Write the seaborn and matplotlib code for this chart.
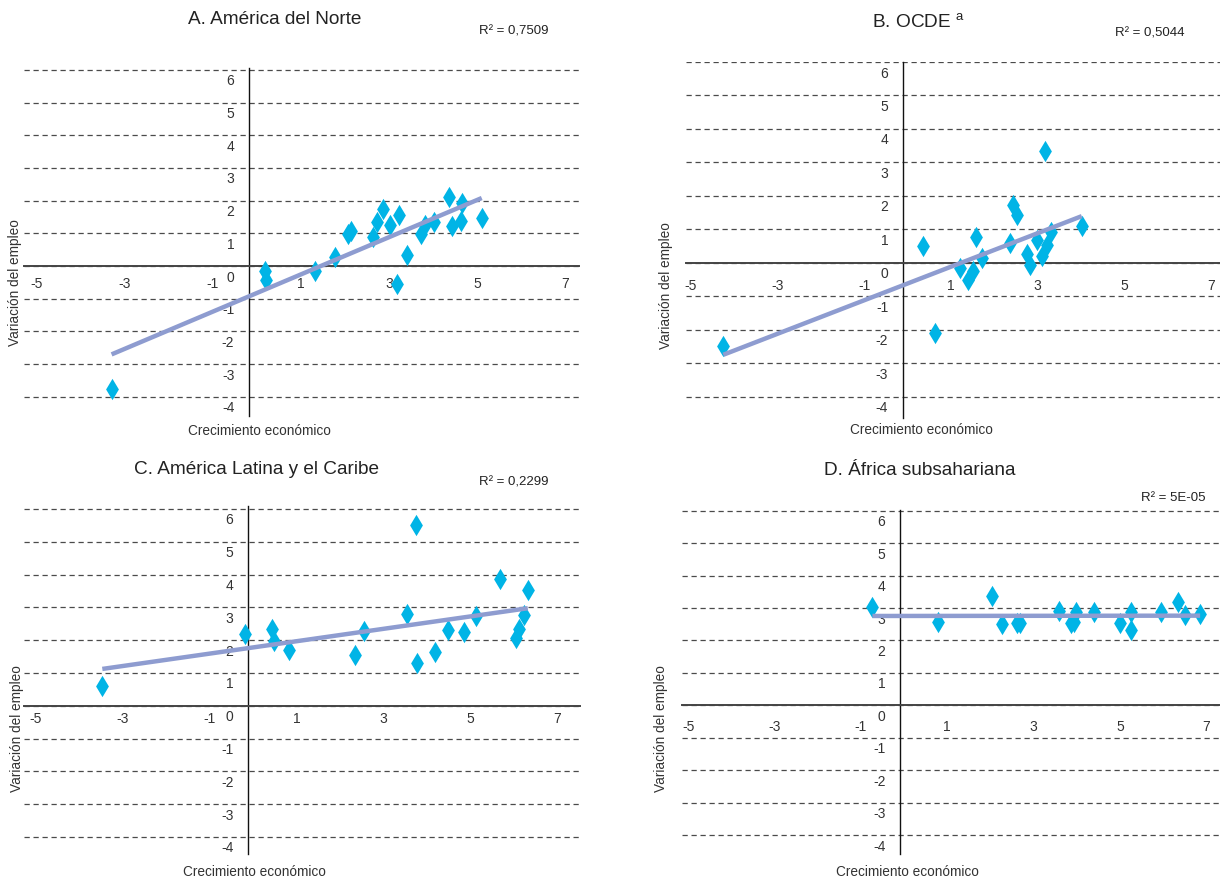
import matplotlib
matplotlib.use("Agg")
import matplotlib.pyplot as plt
import matplotlib.transforms as mtransforms
import seaborn as sns

# ---------------- data ----------------
# A. América del Norte
na_x = [-3.12, 0.36, 0.39, 1.51, 1.96, 2.25, 2.32, 2.83, 2.92, 3.05, 3.20,
        3.42, 3.37, 3.59, 3.92, 4.01, 4.20, 4.54, 4.62, 4.83, 4.85, 5.29]
na_y = [-3.77, -0.15, -0.44, -0.15, 0.28, 0.98, 1.08, 0.90, 1.35, 1.75, 1.27,
        1.56, -0.56, 0.34, 0.99, 1.27, 1.35, 2.12, 1.22, 1.38, 1.92, 1.46]
# B. OCDE
oecd_x = [-4.14, 0.46, 0.74, 1.32, 1.50, 1.61, 1.68, 1.82, 2.48, 2.54, 2.63,
          2.86, 2.93, 3.10, 3.21, 3.29, 3.33, 3.41, 4.13]
oecd_y = [-2.48, 0.50, -2.08, -0.15, -0.50, -0.25, 0.77, 0.15, 0.59, 1.73, 1.44,
          0.28, -0.05, 0.69, 0.20, 3.35, 0.54, 0.92, 1.09]
# C. América Latina y el Caribe
lac_x = [-3.35, -0.08, 0.56, 0.59, 0.94, 2.46, 2.67, 3.65, 3.85, 3.89, 4.30,
         4.59, 4.96, 5.24, 5.78, 6.16, 6.23, 6.34, 6.43]
lac_y = [0.59, 2.18, 2.34, 1.98, 1.71, 1.54, 2.28, 2.79, 5.50, 1.29, 1.65,
         2.30, 2.26, 2.74, 3.86, 2.06, 2.34, 2.77, 3.53]
# D. África subsahariana
ssa_x = [-0.64, 0.87, 2.14, 2.37, 2.70, 2.77, 3.69, 3.96, 4.04, 4.08, 4.50,
         5.09, 5.36, 5.36, 6.05, 6.44, 6.59, 6.95]
ssa_y = [3.02, 2.56, 3.37, 2.50, 2.53, 2.53, 2.91, 2.53, 2.58, 2.89, 2.89,
         2.55, 2.87, 2.31, 2.89, 3.18, 2.77, 2.81]

titles = ["A. América del Norte", "B. OCDE $^{\\mathrm{a}}$",
          "C. América Latina y el Caribe", "D. África subsahariana"]
r2_labels = ["R² = 0,7509", "R² = 0,5044", "R² = 0,2299", "R² = 5E-05"]
x_ticks = [-5, -3, -1, 1, 3, 5, 7]
y_ticks = [-4, -3, -2, -1, 0, 1, 2, 3, 4, 5, 6]
xlabel = "Crecimiento económico"
ylabel = "Variación del empleo"

# ---------------- style ----------------
sns.set_theme(style="white")
plt.rcParams['font.family'] = ['Liberation Sans', 'DejaVu Sans']
plt.rcParams['mathtext.fontset'] = 'custom'
plt.rcParams['mathtext.rm'] = 'Liberation Sans'
plt.rcParams['mathtext.it'] = 'Liberation Sans:italic'
plt.rcParams['axes.unicode_minus'] = False

MARKER = "#00B4E6"
LINE = "#8E9CD0"
GRID = "#4a4a4a"
TXT = "#222222"
TICK = "#333333"

W, H = 1220, 879
fig = plt.figure(figsize=(W / 100, H / 100), dpi=100)
fig.patch.set_facecolor("white")

# layout (pixels): box = (left, right, top, bottom)
layout = [
    dict(box=(24, 579, 69, 417), xlim=(-5.11, 7.5), ylim=(-4.59, 6.06),
         title=(275, 20), r2=(514, 31), ylab=(15, 283), xlab=(259, 431),
         xpad=7, xshift=0.08),
    dict(box=(686, 1220, 63, 419), xlim=(-4.93, 7.32), ylim=(-4.63, 6.0),
         title=(918, 22), r2=(1150, 33), ylab=(666, 286), xlab=(921, 430),
         xpad=11, xshift=0.05),
    dict(box=(24, 580, 507, 855), xlim=(-5.15, 7.63), ylim=(-4.52, 6.09),
         title=(257, 470), r2=(514, 483), ylab=(17, 729), xlab=(254, 872),
         xpad=4, xshift=0.05),
    dict(box=(682, 1220, 511, 855), xlim=(-5.05, 7.41), ylim=(-4.58, 6.02),
         title=(920, 471), r2=(1173, 498), ylab=(661, 729), xlab=(907, 872),
         xpad=9.5, xshift=0.04),
]
series = [(na_x, na_y), (oecd_x, oecd_y), (lac_x, lac_y), (ssa_x, ssa_y)]

for (xs, ys), lay, title, r2 in zip(series, layout, titles, r2_labels):
    l, r, t, b = lay["box"]
    ax = fig.add_axes([l / W, 1 - b / H, (r - l) / W, (b - t) / H])
    ax.patch.set_visible(False)
    sns.regplot(x=xs, y=ys, ax=ax, ci=None, marker="d", color=MARKER,
                scatter_kws=dict(s=118, linewidths=0, zorder=3, alpha=1),
                line_kws=dict(color=LINE, lw=3.2, zorder=4,
                              solid_capstyle="butt"))
    ax.set_xlim(*lay["xlim"])
    ax.set_ylim(*lay["ylim"])
    ax.set_xticks(x_ticks)
    ax.set_xticklabels([str(v) for v in x_ticks])
    ax.set_yticks(y_ticks)
    ax.set_yticklabels([str(v) for v in y_ticks])
    ax.set_xlabel("")
    ax.set_ylabel("")

    for s in ["top", "right"]:
        ax.spines[s].set_visible(False)
    ax.spines["left"].set_position(("data", 0))
    ax.spines["bottom"].set_position(("data", 0))
    ax.spines["left"].set_color("#111111")
    ax.spines["left"].set_linewidth(1.0)
    ax.spines["bottom"].set_color("#444444")
    ax.spines["bottom"].set_linewidth(1.4)

    ax.tick_params(length=0, labelsize=10, labelcolor=TICK)
    ax.tick_params(axis="y", pad=10.5)
    ax.tick_params(axis="x", pad=lay["xpad"])
    ax.grid(axis="y", linestyle=(0, (4.2, 3)), color=GRID, linewidth=0.9)
    ax.grid(axis="x", visible=False)
    ax.set_axisbelow(True)

    for lab in ax.get_yticklabels():
        lab.set_transform(lab.get_transform() +
                          mtransforms.ScaledTranslation(0, -0.09, fig.dpi_scale_trans))
    for lab in ax.get_xticklabels():
        lab.set_transform(lab.get_transform() +
                          mtransforms.ScaledTranslation(lay["xshift"], 0, fig.dpi_scale_trans))

    tx, ty = lay["title"]
    fig.text(tx / W, 1 - ty / H, title, ha="center", va="center",
             fontsize=13.7, color=TXT)
    rx, ry = lay["r2"]
    fig.text(rx / W, 1 - ry / H, r2, ha="center", va="center",
             fontsize=9.5, color=TXT)
    yx, yy = lay["ylab"]
    fig.text(yx / W, 1 - yy / H, ylabel, ha="center", va="center",
             rotation=90, fontsize=9.8, color=TICK)
    xx, xy = lay["xlab"]
    fig.text(xx / W, 1 - xy / H, xlabel, ha="center", va="center",
             fontsize=9.8, color=TICK)

fig.savefig("out.png", dpi=100, facecolor="white")
